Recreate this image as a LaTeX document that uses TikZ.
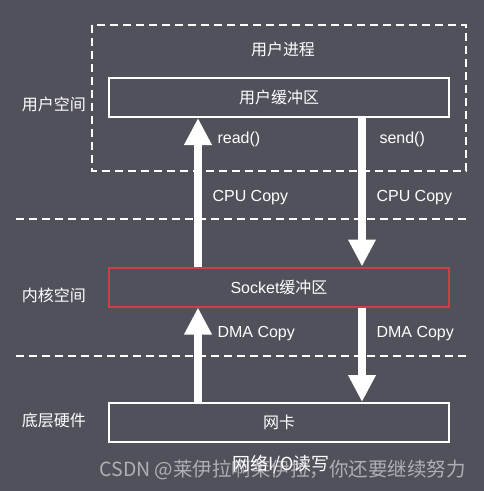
\documentclass[tikz,border=0pt]{standalone}
\usepackage{fontspec}
\setmainfont{Liberation Sans}
\newfontfamily\cjk{Noto Sans CJK SC}
\usetikzlibrary{arrows.meta}
\definecolor{bggray}{RGB}{80,81,91}
\definecolor{sockred}{RGB}{205,62,72}
\definecolor{markgray}{RGB}{175,175,180}
\tikzset{
  buf/.style={draw=white,line width=2pt,minimum width=340pt,minimum height=39pt,
    text=white,font=\fontsize{16}{19}\selectfont},
  lbl/.style={text=white,anchor=west,font=\fontsize{16}{19}\selectfont},
  layer/.style={text=white,font=\cjk\fontsize{16}{19}\selectfont},
  sep/.style={white,line width=1.8pt,dash pattern=on 8pt off 5pt},
  bigarrow/.style={white,line width=8pt,-{Triangle[width=26pt,length=27pt]}}
}
\begin{document}
\begin{tikzpicture}[x=1pt,y=-1pt]
  \fill[bggray] (0,0) rectangle (484,491);
  \useasboundingbox (0,0) rectangle (484,491);

  % user process
  \draw[sep] (92,25) rectangle (466,171);
  \node[layer] (proc) at (283,49) {用户进程};
  \node[buf] (ubuf) at (279,97.5) {\cjk 用户缓冲区};
  \node[buf,draw=sockred] (sock) at (279,287) {Socket{\cjk 缓冲区}};
  \node[buf] (nic) at (279,422.5) {\cjk 网卡};

  % layers
  \node[layer] (uspace) at (54,104) {用户空间};
  \node[layer] (kspace) at (54,295) {内核空间};
  \node[layer] (hw) at (54,420) {底层硬件};
  \draw[sep] (16,219) -- (470,219);
  \draw[sep] (16,356) -- (470,356);

  % copies
  \coordinate (rd) at (198,0);
  \coordinate (sd) at (362,0);
  \draw[bigarrow] (sock.north -| rd) -- (ubuf.south -| rd);
  \draw[bigarrow] (nic.north -| rd) -- (sock.south -| rd);
  \draw[bigarrow] (ubuf.south -| sd) -- (sock.north -| sd);
  \draw[bigarrow] (sock.south -| sd) -- (nic.north -| sd);

  \node[lbl] (read) at (214,139) {read()};
  \node[lbl] (send) at (376,139) {send()};
  \node[lbl] (cpul) at (209,198) {CPU Copy};
  \node[lbl] (cpur) at (373,198) {CPU Copy};
  \node[lbl] (dmal) at (214,334) {DMA Copy};
  \node[lbl] (dmar) at (373,334) {DMA Copy};

  % caption and watermark
  \node[text=markgray,anchor=west,font=\cjk\fontsize{19.5}{22}\selectfont] (mark) at (96,470) {CSDN @莱伊拉啊莱伊拉，你还要继续努力};
  \node[layer,font=\cjk\fontsize{18}{21}\selectfont] (title) at (281,464) {网络I/O读写};
\end{tikzpicture}
\end{document}
